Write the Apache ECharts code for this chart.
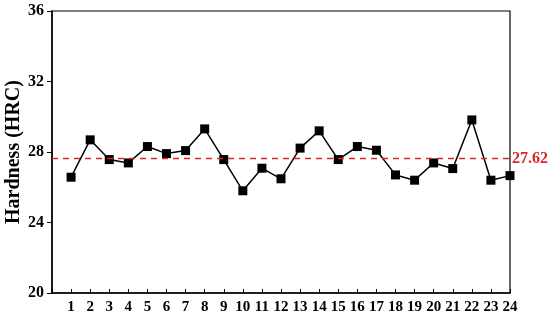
<!DOCTYPE html>
<html>
<head>
<meta charset="utf-8">
<script src="https://cdn.jsdelivr.net/npm/echarts@6/dist/echarts.min.js"></script>
<style>html,body{margin:0;padding:0;background:#fff}#c{width:550px;height:320px}</style>
</head>
<body>
<div id="c"></div>
<script>
var samples = [1,2,3,4,5,6,7,8,9,10,11,12,13,14,15,16,17,18,19,20,21,22,23,24];
var hardness = [26.57,28.69,27.57,27.38,28.31,27.91,28.08,29.31,27.57,25.80,27.08,26.48,28.22,29.20,27.57,28.31,28.10,26.70,26.40,27.38,27.06,29.82,26.40,26.66];
var meanValue = 27.62;
var yTicks = [20,24,28,32,36];

var font = "'Liberation Serif','Times New Roman',serif";
var chart = echarts.init(document.getElementById('c'));
chart.setOption({
  animation: false,
  grid: {left: 52, right: 40, top: 11, bottom: 27, show: true, borderColor: '#000', borderWidth: 1.2,
    backgroundColor: 'transparent', outerBoundsMode: 'none', containLabel: false},
  xAxis: {
    type: 'value', min: 0, max: 24, interval: 1,
    splitLine: {show: false},
    axisLine: {lineStyle: {color: '#000', width: 1.5}},
    axisTick: {inside: true, length: 4, lineStyle: {color: '#000', width: 1}},
    axisLabel: {color: '#000', fontFamily: font, fontWeight: 'bold', fontSize: 15, margin: 7,
      formatter: function(v){ return v === 0 ? '' : String(v); }}
  },
  yAxis: {
    type: 'value', min: yTicks[0], max: yTicks[yTicks.length-1], interval: 4,
    name: 'Hardness (HRC)', nameLocation: 'middle', nameGap: 28, nameMoveOverlap: false,
    nameTextStyle: {color: '#000', fontFamily: font, fontWeight: 'bold', fontSize: 20},
    splitLine: {show: false},
    axisLine: {show: true, lineStyle: {color: '#000', width: 1.5}},
    axisTick: {show: true, inside: false, length: 5, lineStyle: {color: '#000', width: 1}},
    axisLabel: {color: '#000', fontFamily: font, fontWeight: 'bold', fontSize: 16, margin: 8}
  },
  series: [{
    type: 'line',
    data: samples.map(function(s,i){ return [s, hardness[i]]; }),
    symbol: 'rect', symbolSize: 9,
    lineStyle: {color: '#000', width: 1.5},
    itemStyle: {color: '#000'},
    z: 3,
    markLine: {
      silent: true, symbol: 'none',
      lineStyle: {color: '#d7262b', type: [6, 5], width: 1.4},
      label: {show: true, position: 'end', formatter: String(meanValue), color: '#d7262b',
        fontFamily: font, fontWeight: 'bold', fontSize: 16, distance: 2},
      data: [{yAxis: meanValue}]
    }
  }]
});
</script>
</body>
</html>
